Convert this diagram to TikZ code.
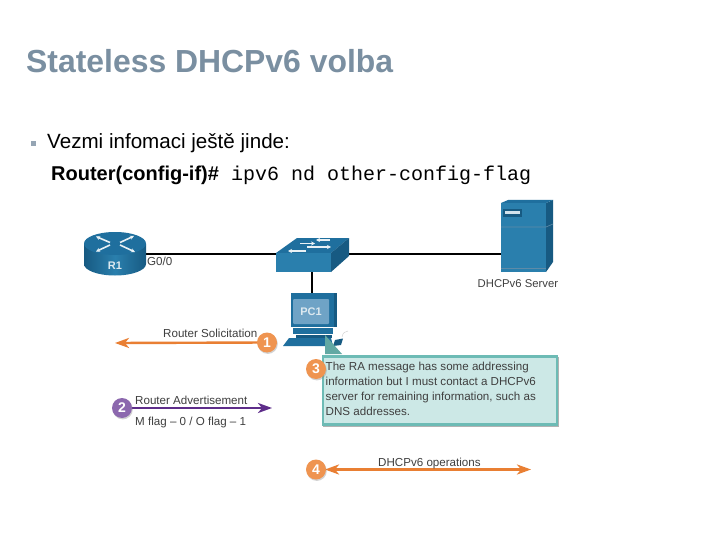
\documentclass[tikz,border=0pt]{standalone}
\usepackage{fontspec}
\setmainfont{Liberation Sans}
\setmonofont{Liberation Mono}
\usetikzlibrary{arrows.meta,shadows}
\definecolor{titlec}{HTML}{7A8FA1}
\definecolor{ciscoA}{HTML}{1F6F9E}
\definecolor{ciscoB}{HTML}{175A82}
\definecolor{ciscoC}{HTML}{2A7FAD}
\definecolor{screenc}{HTML}{6FA3C6}
\definecolor{orangeL}{HTML}{E97F33}
\definecolor{orangeC}{HTML}{EF9450}
\definecolor{purpleL}{HTML}{5E2D8A}
\definecolor{purpleC}{HTML}{8C68AE}
\definecolor{tealB}{HTML}{6DBBB5}
\definecolor{tealF}{HTML}{CCE8E6}
\definecolor{txt}{HTML}{3F3F3F}
\tikzset{
  lab/.style={anchor=base west,inner sep=0pt,text=txt,font=\fontsize{11.6}{13}\selectfont},
  num/.style={circle,minimum size=20pt,inner sep=0pt,text=white,font=\fontsize{14}{14}\selectfont\bfseries,
    drop shadow={shadow xshift=0.8pt,shadow yshift=-1.4pt,opacity=0.35}},
  oline/.style={draw=orangeL,line width=2.4pt},
  tip/.style={-{Stealth[length=14pt,width=10pt,inset=4pt]}},
  wire/.style={draw=black,line width=2pt},
  icon/.style={anchor=center,inner sep=0pt,text=white!85!ciscoA,font=\fontsize{11}{13}\selectfont\bfseries},
  arr/.style={draw=white!90!ciscoA,line width=1.6pt,-{Stealth[length=4pt,width=4pt]}},
}
\begin{document}
\begin{tikzpicture}[x=1pt,y=-1pt]
\useasboundingbox (0,0) rectangle (720,540);
\fill[white] (0,0) rectangle (720,540);

% heading
\node[anchor=base west,inner sep=0pt,text=titlec,font=\fontsize{31.9}{34}\selectfont\bfseries] (title) at (26,72.5) {Stateless DHCPv6 volba};
\node[fill=titlec!80,minimum size=5.5pt,inner sep=0pt] (bul) at (33.5,143.5) {};
\node[anchor=base west,inner sep=0pt,text=black,font=\fontsize{20.6}{22}\selectfont] (b1) at (47,149) {Vezmi infomaci ještě jinde:};
\node[anchor=base west,inner sep=0pt,text=black,font=\fontsize{20}{22}\selectfont\bfseries] (b2) at (51,181) {Router(config-if)\#};
\node[anchor=base west,inner sep=0pt,text=black,font=\fontsize{20}{22}\selectfont\ttfamily] (b3) at (231,181) {ipv6 nd other-config-flag};

% anchors for the network
\coordinate (r1e) at (146,253.5);
\coordinate (swl) at (283,253.5);
\coordinate (swr) at (344,253.5);
\coordinate (sve) at (501,253.5);
\coordinate (swb) at (312,272);
\coordinate (pct) at (312,293);
\draw[wire] (r1e) -- (swl);
\draw[wire] (swr) -- (sve);
\draw[wire] (swb) -- (pct);

% router
\path[left color=ciscoB,right color=ciscoB,middle color=ciscoC] (84,244) -- (84,264) arc[start angle=180,end angle=0,x radius=31,y radius=11.5] -- (146,244) -- cycle;
\fill[ciscoA] (115,243.5) ellipse[x radius=31,y radius=11.5];
\draw[arr] (110,242.5) -- (96,236.5);
\draw[arr] (120,242.5) -- (134,236);
\draw[arr] (110,245) -- (96,251.5);
\draw[arr] (120,245) -- (135,252);
\node[icon] (r1) at (115,266) {R1};
\node[lab,anchor=base west] (g00) at (147,265) {G0/0};

% switch
\fill[ciscoA] (276,253) -- (297,238) -- (349,238) -- (331,253) -- cycle;
\fill[ciscoC] (276,253) rectangle (331,272);
\fill[ciscoB] (331,253) -- (349,238) -- (349,256) -- (331,272) -- cycle;
\draw[arr,line width=1.2pt] (300,243.5) -- (315,243.5);
\draw[arr,line width=1.2pt] (330,240) -- (316,240);
\draw[arr,line width=1.2pt] (307,247) -- (331,247);
\draw[arr,line width=1.2pt] (306,251) -- (288,251);

% PC
\fill[ciscoA] (291,293) rectangle (337,327);
\fill[ciscoB] (334,293) -- (337,293) -- (337,327) -- (334,327) -- cycle;
\fill[screenc,rounded corners=1pt] (293,299) rectangle (329,324);
\node[icon] (pc1) at (311,312) {PC1};
\fill[ciscoA] (293,328) rectangle (333,334);
\fill[ciscoB] (296,335) rectangle (332,338);
\fill[ciscoA] (289,338) -- (331,338) -- (333,346) -- (283,346) -- cycle;
\fill[ciscoB] (335,340) -- (343,338.5) -- (341,345) -- (333,346) -- cycle;
\draw[gray!40,line width=0.4pt] (342,337) .. controls (343,332) and (345,332) .. (348,331);

% server
\fill[ciscoC] (501,203) rectangle (546,272);
\fill[ciscoB] (546,203) -- (553,200) -- (553,262) -- (546,272) -- cycle;
\fill[ciscoA] (501,203) -- (508,200) -- (553,200) -- (546,203) -- cycle;
\draw[ciscoB!70!white,line width=0.6pt] (501,227) -- (546,227) -- (553,224);
\draw[ciscoB!70!white,line width=0.6pt] (501,268) -- (546,268);
\fill[ciscoB] (503,209) rectangle (522,217);
\fill[white!80!ciscoA] (505,211.5) rectangle (520,214);
\node[lab,font=\fontsize{11.3}{13}\selectfont] (srv) at (477.5,287.5) {DHCPv6 Server};

% callout
\path[fill=black,opacity=0.3] (323,357) rectangle (558.5,426.5);
\fill[tealB!90!black] (325,335) -- (342,354) -- (325,354) -- cycle;
\node[draw=tealB,fill=tealF,line width=2.5pt,minimum width=234pt,minimum height=68pt,inner sep=0pt,anchor=north west] (box) at (321.5,355) {};
\node[lab] (c1) at (325.5,370) {The RA message has some addressing};
\node[lab] (c2) at (325.5,385) {information but I must contact a DHCPv6};
\node[lab] (c3) at (325.5,400) {server for remaining information, such as};
\node[lab] (c4) at (325.5,415) {DNS addresses.};

% steps
\coordinate (p1) at (267,342.5);
\coordinate (p2) at (122,408);
\coordinate (e1) at (115,343);
\coordinate (e2) at (272,408);
\coordinate (e4) at (531,469.5);
\coordinate (s4) at (325,469.5);
\draw[oline,tip] (p1) -- (e1);
\draw[draw=purpleL,line width=2.4pt,tip] (p2) -- (e2);
\draw[oline,{Stealth[length=14pt,width=10pt,inset=4pt]}-{Stealth[length=14pt,width=10pt,inset=4pt]}] (s4) -- (e4);
\node[num,fill=orangeC] (n1) at (p1) {1};
\node[num,fill=purpleC] (n2) at (p2) {2};
\node[num,fill=orangeC] (n3) at (316,369) {3};
\node[num,fill=orangeC] (n4) at (316,469.5) {4};
\node[lab] (l1) at (163,337.5) {Router Solicitation};
\node[lab] (l2) at (135,404) {Router Advertisement};
\node[lab] (l3) at (135,425) {M flag – 0 / O flag – 1};
\node[lab] (l4) at (378,466.5) {DHCPv6 operations};
\end{tikzpicture}
\end{document}
